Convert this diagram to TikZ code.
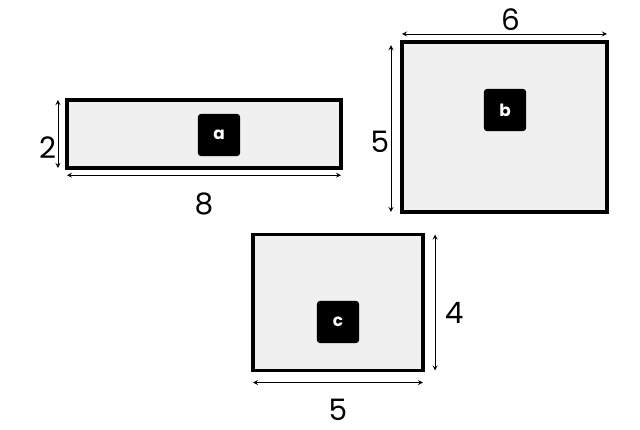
\documentclass[tikz,border=0pt]{standalone}
\usepackage{fontspec}
\setmainfont{Poppins}
\usetikzlibrary{arrows}
\usetikzlibrary{positioning, calc}

\begin{document}
\begin{tikzpicture}[>=stealth, x=0.025cm, y=-0.025cm,
    plate/.style={draw, line width=2.4pt, fill=gray!12, inner sep=0pt, outer sep=0pt},
    tag/.style={fill=black, rounded corners=2pt, minimum size=1.05cm, inner sep=0pt, text=white, font=\bfseries\fontsize{12}{13}\selectfont},
    dim/.style={<->, line width=0.6pt},
    num/.style={font=\fontsize{21}{24}\selectfont, inner sep=1pt}]
    \useasboundingbox (0, 0) rectangle (640, 429);

    \node[plate, minimum width=6.85cm, minimum height=1.7cm] (a) at (204, 134) {};
    \node[plate, minimum width=5.125cm, minimum height=4.25cm] (b) at (504.5, 127) {};
    \node[plate, minimum width=4.25cm, minimum height=3.4cm] (c) at (338, 302.5) {};

    \node[tag] (ta) at (219, 135) {a};
    \node[tag] (tb) at (505, 110) {b};
    \node[tag] (tc) at (338, 322) {c};

    \draw[dim] ([xshift=-0.225cm]a.north west) -- ([xshift=-0.225cm]a.south west) node[pos=0.7, left, num] {2};
    \draw[dim] ([yshift=-0.18cm]a.south west) -- ([yshift=-0.18cm]a.south east) node[midway, below=0.4cm, num] {8};

    \draw[dim] ([yshift=0.2cm]b.north west) -- ([yshift=0.2cm]b.north east) node[midway, above, num, xshift=0.15cm, yshift=0.05cm] {6};
    \draw[dim] ([xshift=-0.275cm, yshift=-0.08cm]b.north west) -- ([xshift=-0.275cm]b.south west) node[pos=0.58, left, num] {5};

    \draw[dim] ([xshift=0.3cm]c.north east) -- ([xshift=0.3cm]c.south east) node[pos=0.58, right=0.2cm, num] {4};
    \draw[dim] ([yshift=-0.3cm]c.south west) -- ([yshift=-0.3cm]c.south east) node[midway, below=0.36cm, num] {5};
\end{tikzpicture}
\end{document}
